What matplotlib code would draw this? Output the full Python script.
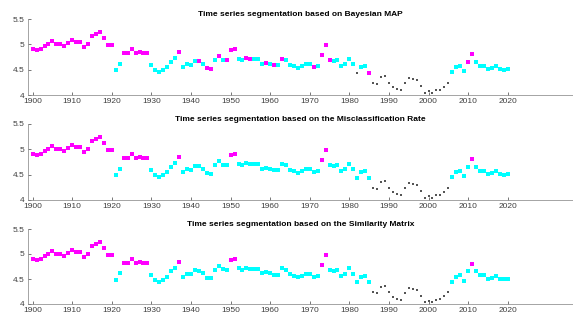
import numpy as np
import matplotlib
matplotlib.use("Agg")
from matplotlib import pyplot as plt

years = np.arange(1900, 2021)
values = [4.90, 4.89, 4.91, 4.96, 5.01, 5.06, 5.01, 5.01, 4.97, 5.03,
          5.08, 5.05, 5.05, 4.95, 5.00, 5.16, 5.21, 5.25, 5.12, 4.99,
          4.99, 4.49, 4.62, 4.82, 4.82, 4.90, 4.82, 4.85, 4.82, 4.82,
          4.59, 4.49, 4.45, 4.49, 4.55, 4.66, 4.73, 4.85, 4.55, 4.61,
          4.60, 4.68, 4.67, 4.62, 4.53, 4.52, 4.69, 4.76, 4.70, 4.69,
          4.88, 4.91, 4.72, 4.69, 4.73, 4.71, 4.71, 4.71, 4.62, 4.64,
          4.62, 4.59, 4.59, 4.72, 4.69, 4.60, 4.57, 4.54, 4.57, 4.61,
          4.61, 4.55, 4.57, 4.79, 4.99, 4.69, 4.67, 4.69, 4.57, 4.61,
          4.72, 4.61, 4.44, 4.55, 4.57, 4.44, 4.24, 4.22, 4.35, 4.37,
          4.24, 4.15, 4.11, 4.09, 4.23, 4.33, 4.31, 4.29, 4.17, 4.04,
          4.07, 4.04, 4.09, 4.10, 4.16, 4.24, 4.45, 4.55, 4.58, 4.47,
          4.66, 4.81, 4.66, 4.58, 4.58, 4.51, 4.53, 4.57, 4.51, 4.50,
          4.51]

# segments: (class, first year, last year)
bayes_runs = [('m', 1900, 1920), ('c', 1921, 1922), ('m', 1923, 1929),
              ('c', 1930, 1936), ('m', 1937, 1937), ('c', 1938, 1941),
              ('m', 1942, 1942), ('c', 1943, 1943), ('m', 1944, 1945),
              ('c', 1946, 1946), ('m', 1947, 1947), ('c', 1948, 1948),
              ('m', 1949, 1951), ('c', 1952, 1953), ('m', 1954, 1955),
              ('c', 1956, 1958), ('m', 1959, 1959), ('c', 1960, 1960),
              ('m', 1961, 1961), ('c', 1962, 1962), ('m', 1963, 1963),
              ('c', 1964, 1970), ('m', 1971, 1971), ('c', 1972, 1972),
              ('m', 1973, 1975), ('c', 1976, 1981), ('g', 1982, 1982),
              ('c', 1983, 1984), ('m', 1985, 1985), ('g', 1986, 2005),
              ('c', 2006, 2009), ('m', 2010, 2011), ('c', 2012, 2020)]
misclass_runs = [('m', 1900, 1920), ('c', 1921, 1922), ('m', 1923, 1929),
                 ('c', 1930, 1936), ('m', 1937, 1937), ('c', 1938, 1949),
                 ('m', 1950, 1951), ('c', 1952, 1972), ('m', 1973, 1974),
                 ('c', 1975, 1985), ('g', 1986, 2005), ('c', 2006, 2010),
                 ('m', 2011, 2011), ('c', 2012, 2020)]
similarity_runs = list(misclass_runs)

titles = ["Time series segmentation based on Bayesian MAP",
          "Time series segmentation based on the Misclassification Rate",
          "Time series segmentation based on the Similarity Matrix"]
xticks = list(range(1900, 2021, 10))
yticks = [4, 4.5, 5, 5.5]
ytick_labels = ["4", "4.5", "5", "5.5"]

colors = {'m': '#ff00ff', 'c': '#00ffff', 'g': '#555555'}
sizes = {'m': 2.6, 'c': 2.6, 'g': 2.0}

plt.rcParams['font.family'] = ['Liberation Sans', 'DejaVu Sans']
fig = plt.figure(figsize=(5.73, 3.16), dpi=100)

W, H = 573.0, 316.0
# (top pixel of 5.5, bottom pixel of 4)
panels = [(19, 95), (124, 200), (229, 304)]
left_px = 28.3

values = np.array(values)
for runs, title, (top, bot) in zip([bayes_runs, misclass_runs, similarity_runs], titles, panels):
    ax = fig.add_axes([left_px / W, 1 - bot / H, 1 - left_px / W, (bot - top) / H])
    labels = np.empty(len(years), dtype=object)
    for c, a, b in runs:
        labels[(years >= a) & (years <= b)] = c
    for c in ['m', 'c', 'g']:
        sel = labels == c
        ax.plot(years[sel], values[sel], linestyle='none', marker='s',
                markersize=sizes[c], color=colors[c], markeredgewidth=0)
    ax.set_xlim(1898.9, 2036.5)
    ax.set_ylim(4, 5.5)
    ax.set_xticks(xticks)
    ax.set_yticks(yticks)
    ax.set_yticklabels(ytick_labels)
    ax.tick_params(direction='in', length=2.5, width=0.5, labelsize=6,
                   colors='#404040')
    ax.tick_params(axis='x', pad=2.5)
    ax.tick_params(axis='y', pad=2.5)
    for s in ['top', 'right']:
        ax.spines[s].set_visible(False)
    for s in ['left', 'bottom']:
        ax.spines[s].set_linewidth(0.5)
        ax.spines[s].set_color('#808080')
    ax.set_title(title, fontsize=6, fontweight='bold', pad=2.5)
    ax.patch.set_alpha(0)

fig.savefig("out.png", dpi=100)
